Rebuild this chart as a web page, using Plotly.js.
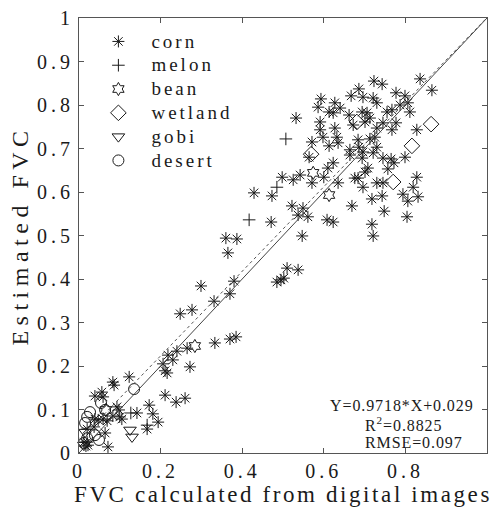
<!DOCTYPE html>
<html>
<head>
<meta charset="utf-8">
<script src="https://cdn.plot.ly/plotly-3.0.1.min.js"></script>
<style>
html,body{margin:0;padding:0;background:#fff;}
#chart{width:492px;height:509px;}
.xtitle{letter-spacing:2.6px;}
.ytitle{letter-spacing:5.5px;}
.xtick text,.ytick text{letter-spacing:4px;}
.legendtext{letter-spacing:3px;font-size:19px !important;}
.annotation-text{letter-spacing:0.9px;}
</style>
</head>
<body>
<div id="chart"></div>
<script>
// ---- data ----
const cornX = [
0.836,0.865,0.723,0.743,0.686,0.777,0.799,0.667,0.593,0.586,
0.627,0.696,0.721,0.730,0.787,0.806,0.811,0.755,0.767,0.613,
0.623,0.640,0.662,0.694,0.706,0.713,0.701,0.591,0.532,0.627,
0.591,0.672,0.745,0.777,0.767,0.730,0.828,0.598,0.632,0.635,
0.571,0.613,0.684,0.713,0.725,0.686,0.664,0.664,0.696,0.721,
0.730,0.694,0.564,0.745,0.765,0.772,0.799,0.623,0.610,0.708,
0.701,0.684,0.676,0.757,0.498,0.525,0.542,0.600,0.571,0.635,
0.696,0.730,0.745,0.828,0.819,0.794,0.806,0.831,0.743,0.718,
0.473,0.522,0.549,0.537,0.561,0.669,0.748,0.804,0.608,0.623,
0.718,0.547,0.721,0.429,
0.471,0.360,0.387,0.365,0.510,0.537,0.485,0.502,0.495,0.299,
0.380,0.331,0.370,0.248,0.277,0.333,0.370,0.385,0.265,0.240,
0.218,0.230,0.206,0.211,0.216,0.272,0.211,0.260,0.238,0.123,
0.083,0.086,0.056,0.059,0.039,0.172,0.181,0.194,0.167,0.142,
0.093,0.098,0.100,0.105,0.083,0.047,0.037,0.059,0.069,0.020,
0.064,0.020,0.071,0.022,0.012,0.017,0.039];
const cornY = [
0.860,0.834,0.855,0.848,0.837,0.828,0.821,0.821,0.814,0.795,
0.805,0.818,0.816,0.805,0.800,0.805,0.784,0.784,0.789,0.784,
0.782,0.793,0.777,0.784,0.782,0.770,0.761,0.761,0.770,0.747,
0.743,0.754,0.759,0.759,0.743,0.747,0.743,0.726,0.726,0.713,
0.715,0.706,0.720,0.722,0.726,0.703,0.697,0.685,0.692,0.690,
0.703,0.678,0.680,0.678,0.676,0.667,0.680,0.667,0.655,0.655,
0.646,0.632,0.632,0.653,0.634,0.628,0.639,0.634,0.621,0.621,
0.611,0.621,0.621,0.634,0.611,0.595,0.579,0.589,0.591,0.584,
0.591,0.568,0.563,0.547,0.543,0.568,0.556,0.543,0.536,0.531,
0.526,0.499,0.499,0.598,
0.531,0.494,0.492,0.460,0.425,0.421,0.393,0.402,0.398,0.384,
0.395,0.349,0.366,0.320,0.329,0.253,0.262,0.267,0.241,0.234,
0.225,0.214,0.205,0.189,0.184,0.198,0.133,0.126,0.117,0.175,
0.163,0.156,0.140,0.129,0.131,0.110,0.090,0.071,0.055,0.092,
0.106,0.099,0.083,0.078,0.085,0.076,0.060,0.078,0.074,0.055,
0.046,0.025,0.014,0.018,0.025,0.016,0.078];

const melonX = [0.507,0.485,0.417,0.127,0.167];
const melonY = [0.722,0.611,0.536,0.092,0.064];

const beanX = [0.284,0.574,0.613,0.066];
const beanY = [0.246,0.644,0.593,0.099];

const wetlandX = [0.681,0.569,0.863,0.816,0.770];
const wetlandY = [0.761,0.687,0.756,0.706,0.623];

const gobiX = [0.015,0.012,0.125,0.130];
const gobiY = [0.048,0.018,0.053,0.037];

const desertX = [0.135,0.054,0.064,0.027,0.020,0.015,0.039,0.020,0.049,0.012];
const desertY = [0.147,0.115,0.099,0.094,0.083,0.069,0.041,0.034,0.030,0.023];

const fitSlope = 0.9718;
const fitIntercept = 0.029;
const fitR2 = 0.8825;
const fitRMSE = 0.097;
const lineX = [0, 1];

const xTickVals = [0, 0.2, 0.4, 0.6, 0.8, 1];
const yTickVals = [0, 0.1, 0.2, 0.3, 0.4, 0.5, 0.6, 0.7, 0.8, 0.9, 1];

// ---- chart ----
const FONT = '"Liberation Serif", "DejaVu Serif", serif';
const INK = '#1a1a1a';

function pts(name, x, y, symbol, size) {
  return {
    type: 'scatter', mode: 'markers', name: name, x: x, y: y,
    marker: {symbol: symbol, size: size, color: INK, line: {color: INK, width: 1}},
    cliponaxis: false
  };
}

const traces = [
  pts('corn', cornX, cornY, 'asterisk-open', 10),
  pts('melon', melonX, melonY, 'cross-thin-open', 9),
  pts('bean', beanX, beanY, 'hexagram-open', 10),
  pts('wetland', wetlandX, wetlandY, 'diamond-open', 12),
  pts('gobi', gobiX, gobiY, 'triangle-down-open', 11),
  pts('desert', desertX, desertY, 'circle-open', 11),
  {type: 'scatter', mode: 'lines', x: lineX, y: lineX.map(v => v),
   line: {color: '#444', width: 1}, showlegend: false, hoverinfo: 'skip'},
  {type: 'scatter', mode: 'lines', x: lineX, y: lineX.map(v => fitSlope * v + fitIntercept),
   line: {color: '#555', width: 1, dash: 'dot'}, showlegend: false, hoverinfo: 'skip'}
];

const axisCommon = {
  range: [0, 1], showgrid: false, zeroline: false,
  showline: true, mirror: 'ticks', linecolor: '#555', linewidth: 1,
  ticks: 'inside', ticklen: 5, tickcolor: '#555',
  tickfont: {family: FONT, size: 20, color: INK}
};

const layout = {
  width: 492, height: 509,
  margin: {l: 79, r: 5, t: 18, b: 56},
  paper_bgcolor: '#fff', plot_bgcolor: '#fff',
  font: {family: FONT, color: INK},
  showlegend: true,
  legend: {
    x: 0.0157, y: 0.985, xanchor: 'left', yanchor: 'top',
    bgcolor: 'rgba(0,0,0,0)', borderwidth: 0,
    font: {family: FONT, size: 16, color: INK},
    itemwidth: 56, tracegroupgap: 0
  },
  xaxis: Object.assign({}, axisCommon, {
    tickvals: xTickVals, ticktext: xTickVals.map(String),
    title: {text: 'FVC calculated from digital images', font: {family: FONT, size: 23, color: INK}, standoff: 0}
  }),
  yaxis: Object.assign({}, axisCommon, {
    tickvals: yTickVals, ticktext: yTickVals.map(String),
    title: {text: 'Estimated FVC', font: {family: FONT, size: 24, color: INK}, standoff: 1}
  }),
  annotations: [
    {xref: 'paper', yref: 'paper', x: 0.61, y: (453 - 405) / 435, xanchor: 'left', yanchor: 'middle',
     text: 'Y=' + fitSlope + '*X+' + fitIntercept, showarrow: false,
     font: {family: FONT, size: 16, color: INK}},
    {xref: 'paper', yref: 'paper', x: 0.695, y: (453 - 424) / 435, xanchor: 'left', yanchor: 'middle',
     text: 'R<sup>2</sup>=' + fitR2, showarrow: false,
     font: {family: FONT, size: 16, color: INK}},
    {xref: 'paper', yref: 'paper', x: 0.695, y: (453 - 442) / 435, xanchor: 'left', yanchor: 'middle',
     text: 'RMSE=' + fitRMSE, showarrow: false,
     font: {family: FONT, size: 16, color: INK}}
  ]
};

Plotly.newPlot('chart', traces, layout, {staticPlot: true, displayModeBar: false});
</script>
</body>
</html>
